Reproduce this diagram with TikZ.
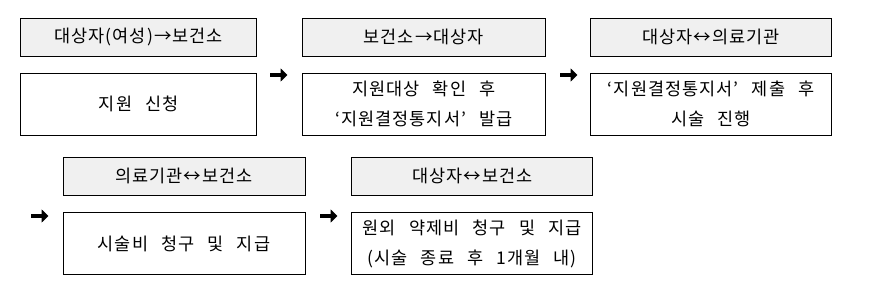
\documentclass[tikz,border=0pt]{standalone}
\usepackage{fontspec}
\setmainfont{Noto Sans CJK KR}
\usetikzlibrary{arrows.meta}
\newcommand{\boxfnt}{\fontsize{17.5}{30}\selectfont\addfontfeature{LetterSpace=6}\spaceskip=0.75em plus 0pt minus 0pt\relax}
\tikzset{
  hdr/.style={draw=black, line width=0.8pt, fill=black!6, minimum height=38pt, inner sep=0pt, font=\boxfnt},
  bodybox/.style={draw=black, line width=0.8pt, fill=white, minimum height=62pt, inner sep=0pt, align=center, font=\boxfnt},
  bigarrow/.style={line width=3.5pt, -{Triangle[length=7pt,width=13pt]}, black}
}
\begin{document}
\begin{tikzpicture}[x=1pt,y=-1pt]
\useasboundingbox (0,0) rectangle (875,291);
% row 1
\node[hdr, minimum width=236pt] (h1) at (138.7,37) {대상자(여성)→보건소};
\node[bodybox, minimum width=236pt] (b1) at (138.7,104) {지원 신청};
\node[hdr, minimum width=242.3pt] (h2) at (423.8,37) {보건소→대상자};
\node[bodybox, minimum width=242.3pt] (b2) at (423.8,104) {지원대상 확인 후\\‘지원결정통지서’ 발급};
\node[hdr, minimum width=241pt] (h3) at (711.2,37) {대상자↔의료기관};
\node[bodybox, minimum width=241pt] (b3) at (711.2,104) {‘지원결정통지서’ 제출 후\\시술 진행};
% row 2
\node[hdr, minimum width=242pt] (h4) at (184,176.3) {의료기관↔보건소};
\node[bodybox, minimum width=242pt] (b4) at (184,243.5) {시술비 청구 및 지급};
\node[hdr, minimum width=241pt] (h5) at (472.2,176.3) {대상자↔보건소};
\node[bodybox, minimum width=241pt] (b5) at (472.2,243.5) {원외 약제비 청구 및 지급\\(시술 종료 후 1개월 내)};
% arrows
\coordinate (a1s) at (270,75); \coordinate (a1e) at (287.5,75);
\coordinate (a2s) at (560,75); \coordinate (a2e) at (577.5,75);
\coordinate (a3s) at (31,216); \coordinate (a3e) at (48.5,216);
\coordinate (a4s) at (320,216); \coordinate (a4e) at (337.5,216);
\draw[bigarrow] (a1s) -- (a1e);
\draw[bigarrow] (a2s) -- (a2e);
\draw[bigarrow] (a3s) -- (a3e);
\draw[bigarrow] (a4s) -- (a4e);
\end{tikzpicture}
\end{document}
